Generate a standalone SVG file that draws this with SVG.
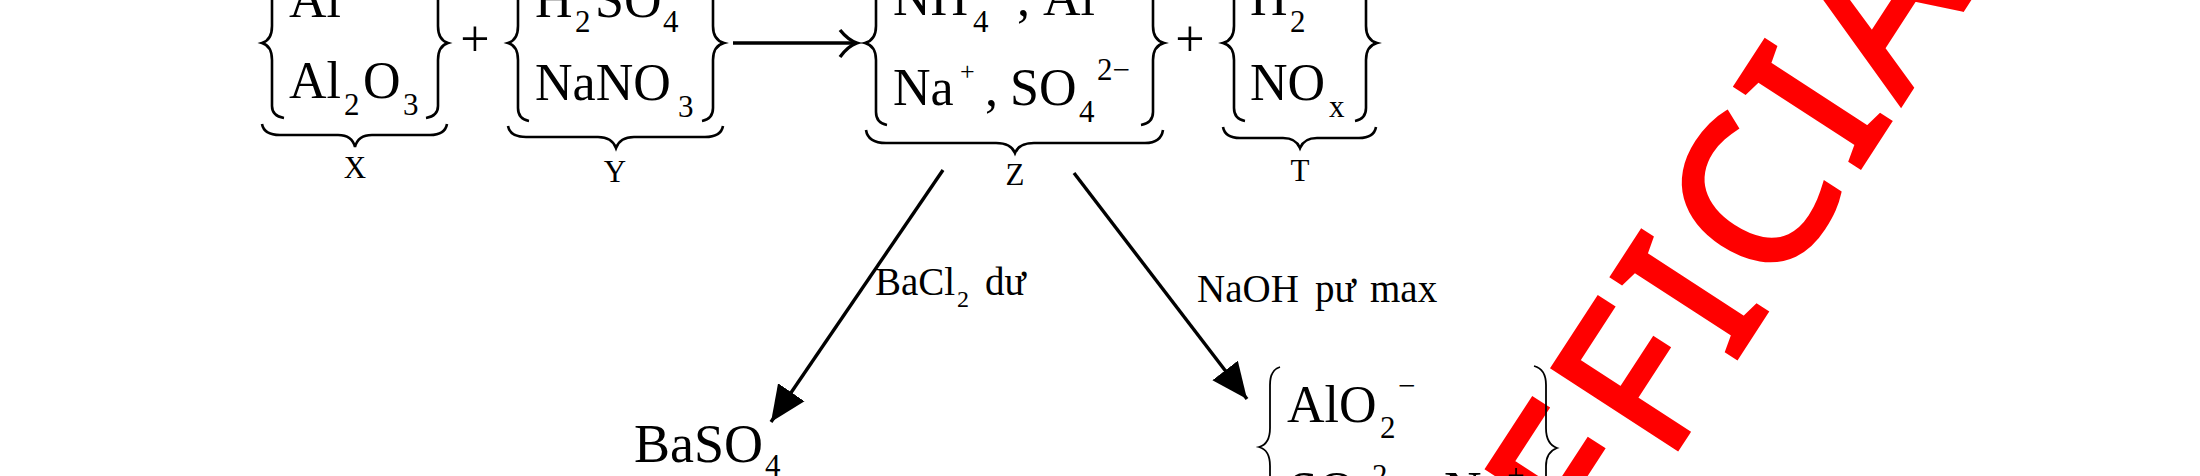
<svg xmlns="http://www.w3.org/2000/svg" width="2200" height="476" viewBox="0 0 2200 476">
<style>
text{font-family:"Liberation Serif","Times New Roman",serif;fill:#000}
.m{font-size:52px}.s{font-size:31px}.p{font-size:26px}.l{font-size:39px}.t{font-size:24px}
.b{fill:none;stroke:#000;stroke-width:2.6}
.n{fill:none;stroke:#000;stroke-width:1.8}
.c{fill:none;stroke:#000;stroke-width:3.4}
#watermark text{font-family:"Noto Sans",sans-serif;font-size:207px;letter-spacing:13px;fill:#f00;stroke:#f00;stroke-width:5}
</style>
<defs>
<marker id="h" markerUnits="userSpaceOnUse" markerWidth="40" markerHeight="34" refX="36" refY="17" orient="auto"><path d="M0 1L36 17L0 33L0 1Z" fill="#000"/></marker>
</defs>
<rect width="2200" height="476" fill="#fff"/>
<g id="watermark"><text transform="translate(1601 566) rotate(-57)">FFICIA</text></g>
<g id="node-x">
<path class="b" d="M284 -40Q272 -38 272 -25V26Q272 40 262 43Q272 46 272 60V106Q272 116 284 118"/>
<path class="b" d="M426 -40Q438 -38 438 -25V26Q438 40 448 43Q438 46 438 60V106Q438 116 426 118"/>
<text class="m" x="289" y="17">Al</text>
<text x="289" y="98"><tspan class="m">Al</tspan><tspan class="s" x="344" y="115">2</tspan><tspan class="m" x="363" y="98">O</tspan><tspan class="s" x="403" y="115">3</tspan></text>
<path class="b" d="M262 124Q264 135 280 135H338Q352 135 355 147Q358 135 372 135H430Q445 135 447 124"/>
<text class="s" x="355" y="178" text-anchor="middle">X</text>
</g>
<g id="plus-1"><text class="m" x="475" y="56" text-anchor="middle">+</text></g>
<g id="node-y">
<path class="b" d="M529 -40Q518 -38 518 -25V26Q518 40 508 43Q518 46 518 60V108Q518 119 529 121"/>
<path class="b" d="M702 -40Q713 -38 713 -25V26Q713 40 724 43Q713 46 713 60V108Q713 119 702 121"/>
<text x="535" y="17"><tspan class="m">H</tspan><tspan class="s" x="575" y="32">2</tspan><tspan class="m" x="595" y="17">SO</tspan><tspan class="s" x="663" y="32">4</tspan></text>
<text x="535" y="100"><tspan class="m">NaNO</tspan><tspan class="s" x="678" y="117">3</tspan></text>
<path class="b" d="M508 126Q510 137 526 137H598Q612 137 616 148Q620 137 634 137H705Q721 137 723 126"/>
<text class="s" x="615" y="182" text-anchor="middle">Y</text>
</g>
<g id="node-z">
<path class="b" d="M887 -40Q876 -38 876 -25V26Q876 40 865 43Q876 46 876 60V112Q876 123 887 125"/>
<path class="b" d="M1141 -40Q1153 -38 1153 -25V26Q1153 40 1164 43Q1153 46 1153 60V112Q1153 123 1141 125"/>
<text x="893" y="15"><tspan class="m">NH</tspan><tspan class="s" x="973" y="32">4</tspan><tspan class="m" x="1017" y="15">,</tspan><tspan class="m" x="1043" y="15">Al</tspan></text>
<text x="893" y="105"><tspan class="m">Na</tspan><tspan class="p" x="960" y="80">+</tspan><tspan class="m" x="985" y="105">,</tspan><tspan class="m" x="1010" y="105">SO</tspan><tspan class="s" x="1079" y="122">4</tspan><tspan class="s" x="1097" y="80">2−</tspan></text>
<path class="b" d="M866 130Q868 143 886 143H996Q1011 143 1015 153Q1019 143 1034 143H1145Q1161 143 1163 130"/>
<text class="s" x="1015" y="185" text-anchor="middle">Z</text>
</g>
<g id="plus-2"><text class="m" x="1190" y="56" text-anchor="middle">+</text></g>
<g id="node-t">
<path class="b" d="M1245 -40Q1234 -38 1234 -25V26Q1234 40 1223 43Q1234 46 1234 60V108Q1234 119 1245 121"/>
<path class="b" d="M1355 -40Q1366 -38 1366 -25V26Q1366 40 1377 43Q1366 46 1366 60V108Q1366 119 1355 121"/>
<text x="1250" y="15"><tspan class="m">H</tspan><tspan class="s" x="1290" y="32">2</tspan></text>
<text x="1250" y="100"><tspan class="m">NO</tspan><tspan class="s" x="1329" y="117">x</tspan></text>
<path class="b" d="M1223 127Q1225 138 1240 138H1283Q1296 138 1300 148Q1304 138 1317 138H1359Q1374 138 1376 127"/>
<text class="s" x="1300" y="181" text-anchor="middle">T</text>
</g>
<g id="node-baso4"><text x="634" y="462"><tspan class="m" style="font-size:54px">BaSO</tspan><tspan class="s" x="765" y="476">4</tspan></text></g>
<g id="node-result">
<path class="n" d="M1280 367Q1270 370 1270 385V428Q1270 444 1259 447Q1270 450 1270 466V520"/>
<path class="n" d="M1534 366Q1546 369 1546 385V428Q1546 444 1557 448Q1546 452 1546 466V520"/>
<text x="1287" y="422"><tspan class="m">AlO</tspan><tspan class="s" x="1380" y="438">2</tspan><tspan class="s" x="1398" y="396">−</tspan></text>
<text x="1289" y="508"><tspan class="m">SO</tspan><tspan class="s" x="1372" y="486">2</tspan><tspan class="m" x="1444" y="508">Na</tspan><tspan class="s" x="1507" y="486">+</tspan></text>
</g>
<g id="connectors">
<path class="c" d="M733 43H855"/>
<path class="b" style="stroke-width:3.4" d="M840 30Q848 40 857 43Q848 46 840 57"/>
<path class="c" marker-end="url(#h)" d="M943 170L771 422"/>
<path class="c" marker-end="url(#h)" d="M1074 173L1247 399"/>
</g>
<g id="labels">
<text class="l" x="875" y="295">BaCl<tspan class="t" x="957" y="307">2</tspan><tspan x="985" y="295">dư</tspan></text>
<text class="l" x="1197" y="302">NaOH<tspan x="1315">pư</tspan><tspan x="1370">max</tspan></text>
</g>
</svg>
